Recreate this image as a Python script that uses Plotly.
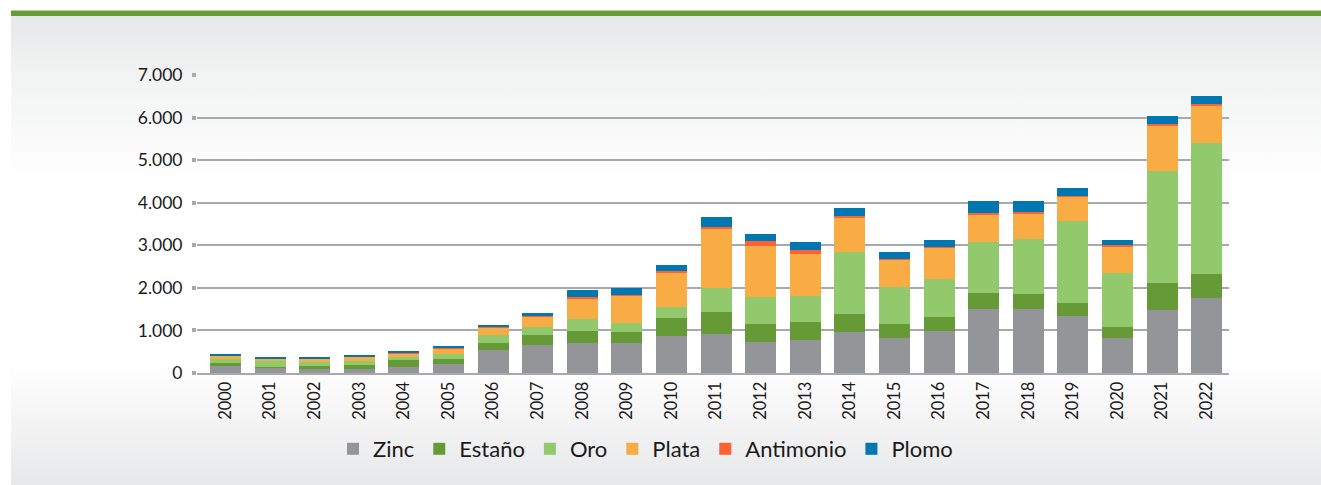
import base64
import plotly.graph_objects as go

# ---------------- data ----------------
years = [str(y) for y in range(2000, 2023)]
zinc      = [172, 125,  94,  94, 141, 219, 547, 664, 711, 711, 875, 922, 734, 783, 972, 831, 995, 1512, 1512, 1347, 830, 1488, 1771]
estano    = [ 56,  23,  71,  94, 165, 110, 165, 235, 282, 258, 424, 518, 424, 424, 423, 329, 330,  377,  354,  299, 252,  628,  557]
oro       = [101, 134,  94,  94,  70, 118, 171, 188, 266, 212, 259, 565, 635, 612, 1436, 854, 877, 1177, 1277, 1928, 1269, 2634, 3080]
plata     = [ 87,  47,  70,  94,  87, 125, 188, 235, 487, 635, 800, 1388, 1200, 988, 830, 652, 746,  665,  612,  572, 628, 1065,  854]
antimonio = [  5,   3,   3,   4,  15,  33,  17,  10,  47,  24,  30,  31, 101,  71,  16,  23,  12,   24,   16,   23,  24,   23,   47]
plomo     = [  9,  28,  28,  20,  16,  14,  23,  84, 165, 165, 158, 251, 181, 188, 189, 142, 176,  275,  259,  181, 124,  205,  204]

series_names = ["Zinc", "Estaño", "Oro", "Plata", "Antimonio", "Plomo"]
series_vals = [zinc, estano, oro, plata, antimonio, plomo]
series_colors = ["#939598", "#669a37", "#92c96d", "#faac44", "#fe6134", "#0077b0"]

# ---------------- layout geometry ----------------
W, H = 1321, 485
L, R, T, B = 197, 92, 75, 112
PW, PH = W - L - R, H - T - B

fig = go.Figure()
for name, vals, color in zip(series_names, series_vals, series_colors):
    fig.add_trace(go.Bar(x=years, y=vals, name=name, marker_color=color,
                         marker_line_width=0))

# background gradient as an SVG image
svg = ('<svg xmlns="http://www.w3.org/2000/svg" width="100" height="100" viewBox="0 0 100 100" '
       'preserveAspectRatio="none"><defs><linearGradient id="g" x1="0" y1="0" x2="0" y2="1">'
       '<stop offset="0" stop-color="#e7e8e9"/>'
       '<stop offset="0.12" stop-color="#f1f2f2"/>'
       '<stop offset="0.35" stop-color="#ffffff"/>'
       '<stop offset="0.74" stop-color="#ffffff"/>'
       '<stop offset="0.84" stop-color="#f6f6f7"/>'
       '<stop offset="1" stop-color="#e7e8e9"/>'
       '</linearGradient></defs><rect width="100" height="100" fill="url(#g)"/></svg>')
src = "data:image/svg+xml;base64," + base64.b64encode(svg.encode()).decode()

def px_x(p):
    return (p - L) / PW

def px_y(p):
    return (H - B - p) / PH

fig.add_layout_image(dict(source=src, xref="paper", yref="paper",
                          x=px_x(11), y=px_y(16), sizex=(W - 11) / PW, sizey=(H - 16) / PH,
                          xanchor="left", yanchor="top", sizing="stretch", layer="below"))

fig.add_shape(type="rect", xref="paper", yref="paper",
              x0=px_x(11), x1=px_x(W + 2), y0=px_y(16), y1=px_y(10.5),
              fillcolor="#689c39", line_width=0, layer="above")

fig.update_layout(
    width=W, height=H,
    margin=dict(l=L, r=R, t=T, b=B),
    barmode="stack", bargap=0.305,
    paper_bgcolor="white", plot_bgcolor="rgba(0,0,0,0)",
    font=dict(family="Lato", size=18, color="#1a1a1a"),
    separators=",.",
    showlegend=True,
    legend=dict(orientation="h", x=px_x(333), xanchor="left", y=px_y(449), yanchor="middle",
                bgcolor="rgba(0,0,0,0)", font=dict(size=22), traceorder="normal"),
)
fig.update_xaxes(type="category", range=[-0.64, 22.5], tickangle=-90,
                 showline=True, linecolor="#a7a9ac", linewidth=2, ticks="",
                 tickfont=dict(size=16.5), fixedrange=True, showgrid=False)
fig.update_yaxes(range=[0, 7000], dtick=1000, tickformat=",d",
                 showgrid=True, gridcolor="#a7a9ac", gridwidth=1.5,
                 ticks="outside", ticklen=4, tickwidth=4, tickcolor="#a7a9ac",
                 zeroline=False, showline=False, ticklabelstandoff=6,
                 tickfont=dict(size=17.5), fixedrange=True)

fig.write_html("out.html", config={"displayModeBar": False},
               post_script="document.body.style.margin='0';document.body.style.overflow='hidden';")
